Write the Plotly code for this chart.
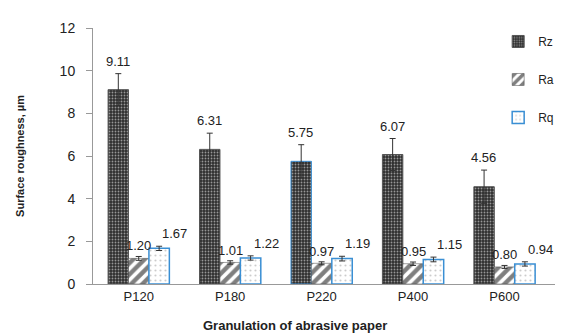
import plotly.graph_objects as go

categories = ["P120", "P180", "P220", "P400", "P600"]
rz = [9.11, 6.31, 5.75, 6.07, 4.56]
ra = [1.20, 1.01, 0.97, 0.95, 0.80]
rq = [1.67, 1.22, 1.19, 1.15, 0.94]
rz_err = [0.75, 0.76, 0.78, 0.75, 0.78]
ra_err = [0.09, 0.08, 0.07, 0.08, 0.07]
rq_err = [0.10, 0.10, 0.11, 0.11, 0.10]
y_ticks = [0, 2, 4, 6, 8, 10, 12]

FONT = "Liberation Sans, Arial, sans-serif"
EB = dict(type="data", visible=True, color="#333", thickness=1, width=3)

fig = go.Figure()
rz_line = ["#555", "#555", "#3a8fd4", "#555", "#555"]
fig.add_trace(go.Bar(
    name="Rz", x=categories, y=rz, error_y=dict(array=rz_err, **EB),
    marker=dict(color="#333",
                pattern=dict(shape=".", fgcolor="#ffffff", bgcolor="#2e2e2e", size=3, solidity=0.3),
                line=dict(color=rz_line, width=1)),
    legendgroup="rz"))
fig.add_trace(go.Bar(
    name="Ra", x=categories, y=ra, error_y=dict(array=ra_err, **EB),
    marker=dict(color="white",
                pattern=dict(shape="/", fgcolor="#000000", bgcolor="#ffffff", size=8, solidity=0.55),
                line=dict(color="#444", width=0.5)),
    legendgroup="ra"))
fig.add_trace(go.Bar(
    name="Rq", x=categories, y=rq, error_y=dict(array=rq_err, **EB),
    marker=dict(color="white",
                pattern=dict(shape=".", fgcolor="#9a9a9a", bgcolor="#ffffff", size=5, solidity=0.15),
                line=dict(color="#3a8fd4", width=1.5)),
    legendgroup="rq"))

annotations = []
for i, c in enumerate(categories):
    annotations.append(dict(x=c, y=rz[i] + rz_err[i], text=f"{rz[i]:.2f}", showarrow=False,
                            yanchor="bottom", xshift=-21, yshift=3,
                            font=dict(size=13, color="#222", family=FONT)))
    annotations.append(dict(x=c, y=ra[i] + ra_err[i], text=f"{ra[i]:.2f}", showarrow=False,
                            yanchor="bottom", xshift=0, yshift=1,
                            font=dict(size=13, color="#222", family=FONT)))
    annotations.append(dict(x=c, y=rq[i] + rq_err[i], text=f"{rq[i]:.2f}", showarrow=False,
                            yanchor="bottom", xshift=36, yshift=3,
                            font=dict(size=13, color="#222", family=FONT)))
annotations.append(dict(xref="paper", yref="paper", x=0.438, y=-0.126, yanchor="top",
                        text="<b>Granulation of abrasive paper</b>", showarrow=False,
                        font=dict(size=13, color="#222", family=FONT)))

fig.update_layout(
    width=577, height=335,
    margin=dict(l=78, r=30, t=12, b=59),
    paper_bgcolor="white", plot_bgcolor="white",
    barmode="group", bargap=0.33, bargroupgap=0,
    font=dict(family=FONT, color="#222"),
    showlegend=True,
    legend=dict(x=0.877, y=1.004, xanchor="left", yanchor="top", tracegroupgap=19,
                font=dict(size=12, color="#222", family=FONT), bgcolor="rgba(0,0,0,0)",
                itemwidth=30),
    annotations=annotations,
    xaxis=dict(showline=True, linecolor="#999", linewidth=1, ticks="", showgrid=False,
               tickfont=dict(size=13, color="#222"), zeroline=False),
    yaxis=dict(range=[0, 12], tickvals=y_ticks, showline=True, linecolor="#999", linewidth=1,
               ticks="outside", ticklen=6, tickcolor="#999", showgrid=False, zeroline=False,
               tickfont=dict(size=14, color="#222"), ticklabelstandoff=8,
               title=dict(text="<b>Surface roughness, µm</b>", font=dict(size=11, color="#222"),
                          standoff=32)),
)

fig.write_html("out.html")
